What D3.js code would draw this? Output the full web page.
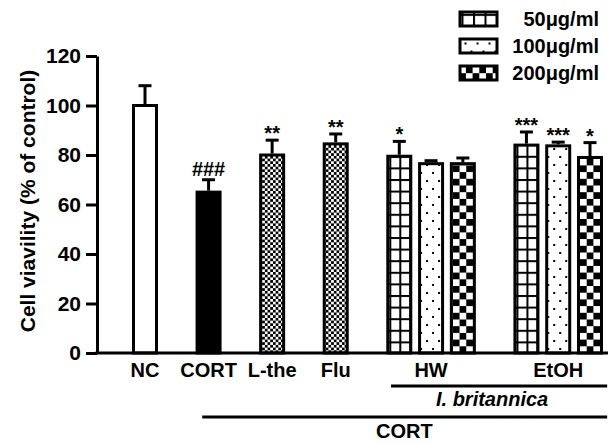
<!DOCTYPE html>
<html>
<head>
<meta charset="utf-8">
<script src="https://cdn.jsdelivr.net/npm/d3@7/dist/d3.min.js"></script>
<style>
  body { margin: 0; background: #fff; }
  text { font-family: Arial, "Liberation Sans", sans-serif; font-weight: bold; fill: #000; }
</style>
</head>
<body>
<div id="chart"></div>
<script>
//begin: data
var labels   = ["NC", "CORT", "L-the", "Flu", "HW", "HW", "HW", "EtOH", "EtOH", "EtOH"];
var slots    = [0, 1, 2, 3, 4, 4.5, 5, 6, 6.5, 7];
var means    = [100, 65, 80, 84.5, 79.5, 76.5, 76.5, 84, 83.7, 79];
var errs     = [8, 5, 6, 4, 6, 1.2, 2.3, 5.3, 1.5, 6];
var fills    = ["white", "black", "fine", "fine", "grid", "dots", "checker", "grid", "dots", "checker"];
var marks    = ["", "###", "**", "**", "*", "", "", "***", "***", "*"];
var yTicks   = [0, 20, 40, 60, 80, 100, 120];
var legendLabels = ["50\u03bcg/ml", "100\u03bcg/ml", "200\u03bcg/ml"];
var legendFills  = ["grid", "dots", "checker"];
var brackets = [
  { label: "I. britannica", from: 3.87, to: 7.27, mid: 5.46, italic: true },
  { label: "CORT", from: 0.9, to: 7.27, mid: 4.08, italic: false }
];
//end: data

var width = 615, height = 444;
var barW = 23;

var x = d3.scaleLinear().domain([0, 7]).range([145, 590]);
var y = d3.scaleLinear().domain([0, 120]).range([353, 56]);

var svg = d3.select("#chart").append("svg")
  .attr("width", width)
  .attr("height", height);

var defs = svg.append("defs");

// one pattern per shape, anchored at its own corner
function makePattern(id, type, x0, y0, w) {
  if (type == "white") return "#fff";
  if (type == "black") return "#000";
  var p = defs.append("pattern")
    .attr("id", id)
    .attr("patternUnits", "userSpaceOnUse")
    .attr("x", x0).attr("y", y0);
  if (type == "fine") {
    var s = 2.7;
    p.attr("width", 2 * s).attr("height", 2 * s);
    p.append("rect").attr("width", 2 * s).attr("height", 2 * s).attr("fill", "#fff");
    p.append("rect").attr("width", s).attr("height", s).attr("fill", "#000");
    p.append("rect").attr("x", s).attr("y", s).attr("width", s).attr("height", s).attr("fill", "#000");
  } else if (type == "checker") {
    var s = 6.7;
    p.attr("width", 2 * s).attr("height", 2 * s);
    p.append("rect").attr("width", 2 * s).attr("height", 2 * s).attr("fill", "#fff");
    p.append("rect").attr("width", s).attr("height", s).attr("fill", "#000");
    p.append("rect").attr("x", s).attr("y", s).attr("width", s).attr("height", s).attr("fill", "#000");
  } else if (type == "grid") {
    var cw = w / 2, ch = 11.6;
    p.attr("width", cw).attr("height", ch);
    p.append("rect").attr("width", cw).attr("height", ch).attr("fill", "#fff");
    p.append("rect").attr("width", 2).attr("height", ch).attr("fill", "#000");
    p.append("rect").attr("width", cw).attr("height", 2).attr("fill", "#000");
  } else if (type == "dots") {
    p.attr("width", 12).attr("height", 16);
    p.append("rect").attr("width", 12).attr("height", 16).attr("fill", "#fff");
    p.append("rect").attr("x", 5).attr("y", 3).attr("width", 2).attr("height", 2).attr("fill", "#000");
    p.append("rect").attr("x", 11).attr("y", 11).attr("width", 2).attr("height", 2).attr("fill", "#000");
    p.append("rect").attr("x", -1).attr("y", 11).attr("width", 2).attr("height", 2).attr("fill", "#000");
  }
  return "url(#" + id + ")";
}

var bars = slots.map(function (s, i) {
  return { slot: s, label: labels[i], mean: means[i], err: errs[i], fill: fills[i], mark: marks[i], i: i };
});

// bars
svg.append("g").selectAll("rect")
  .data(bars)
  .enter()
  .append("rect")
  .attr("x", d => x(d.slot) - barW / 2)
  .attr("y", d => y(d.mean))
  .attr("width", barW)
  .attr("height", d => y(0) - y(d.mean))
  .attr("fill", d => makePattern("pb" + d.i, d.fill, x(d.slot) - barW / 2 + 1.5, y(0), barW - 3))
  .attr("stroke", "#000")
  .attr("stroke-width", 3);

// error bars (upper only)
var eb = svg.append("g").attr("stroke", "#000").attr("stroke-width", 3);
eb.selectAll(".stem").data(bars).enter().append("line")
  .attr("x1", d => x(d.slot)).attr("x2", d => x(d.slot))
  .attr("y1", d => y(d.mean) - 1.5).attr("y2", d => y(d.mean + d.err));
eb.selectAll(".cap").data(bars).enter().append("line")
  .attr("x1", d => x(d.slot) - 6.5).attr("x2", d => x(d.slot) + 6.5)
  .attr("y1", d => y(d.mean + d.err)).attr("y2", d => y(d.mean + d.err));

// significance marks
svg.append("g").selectAll("text")
  .data(bars.filter(d => d.mark))
  .enter()
  .append("text")
  .attr("x", d => x(d.slot))
  .attr("y", d => y(d.mean + d.err) - (d.mark == "###" ? 4 : 0))
  .attr("text-anchor", "middle")
  .style("font-size", "20px")
  .text(d => d.mark);

// y axis
var yAxis = svg.append("g")
  .attr("transform", "translate(97,0)")
  .call(d3.axisLeft(y).tickValues(yTicks).tickSize(11).tickSizeOuter(0).tickPadding(5));
yAxis.select(".domain").attr("stroke-width", 3);
yAxis.selectAll(".tick line").attr("stroke-width", 3);
yAxis.selectAll(".tick text")
  .style("font-size", "21px")
  .style("font-family", "Arial, 'Liberation Sans', sans-serif")
  .style("font-weight", "bold");

// baseline
svg.append("line")
  .attr("x1", 95.5).attr("x2", 608)
  .attr("y1", y(0)).attr("y2", y(0))
  .attr("stroke", "#000").attr("stroke-width", 3);

// category labels
var groupLabels = [];
bars.forEach(function (d) {
  var g = groupLabels.find(e => e.label == d.label);
  if (g) g.slots.push(d.slot); else groupLabels.push({ label: d.label, slots: [d.slot] });
});
svg.append("g").selectAll("text")
  .data(groupLabels)
  .enter()
  .append("text")
  .attr("x", d => x(d3.mean(d.slots)))
  .attr("y", 377)
  .attr("text-anchor", "middle")
  .style("font-size", "20px")
  .text(d => d.label);

// brackets
var br = svg.append("g").selectAll("g")
  .data(brackets)
  .enter()
  .append("g");
br.append("line")
  .attr("x1", d => x(d.from)).attr("x2", d => x(d.to))
  .attr("y1", (d, i) => 386 + i * 31).attr("y2", (d, i) => 386 + i * 31)
  .attr("stroke", "#000").attr("stroke-width", 3);
br.append("text")
  .attr("x", d => x(d.mid))
  .attr("y", (d, i) => 406 + i * 32)
  .attr("text-anchor", "middle")
  .style("font-size", "20px")
  .style("font-style", d => d.italic ? "italic" : "normal")
  .text(d => d.label);

// y title
svg.append("text")
  .attr("transform", "translate(35,201) rotate(-90)")
  .attr("text-anchor", "middle")
  .style("font-size", "21px")
  .text("Cell viavility (% of control)");

// legend
var lg = svg.append("g").selectAll("g")
  .data(legendLabels)
  .enter()
  .append("g")
  .attr("transform", (d, i) => "translate(460," + (12 + i * 27) + ")");
lg.append("rect")
  .attr("width", 37).attr("height", 14)
  .attr("fill", (d, i) => makePattern("pl" + i, legendFills[i], 461.5, 12 + i * 27 + 1.5, 23))
  .attr("stroke", "#000").attr("stroke-width", 3);
lg.append("text")
  .attr("x", 139).attr("y", 14)
  .attr("text-anchor", "end")
  .style("font-size", "20px")
  .text(d => d);
</script>
</body>
</html>
